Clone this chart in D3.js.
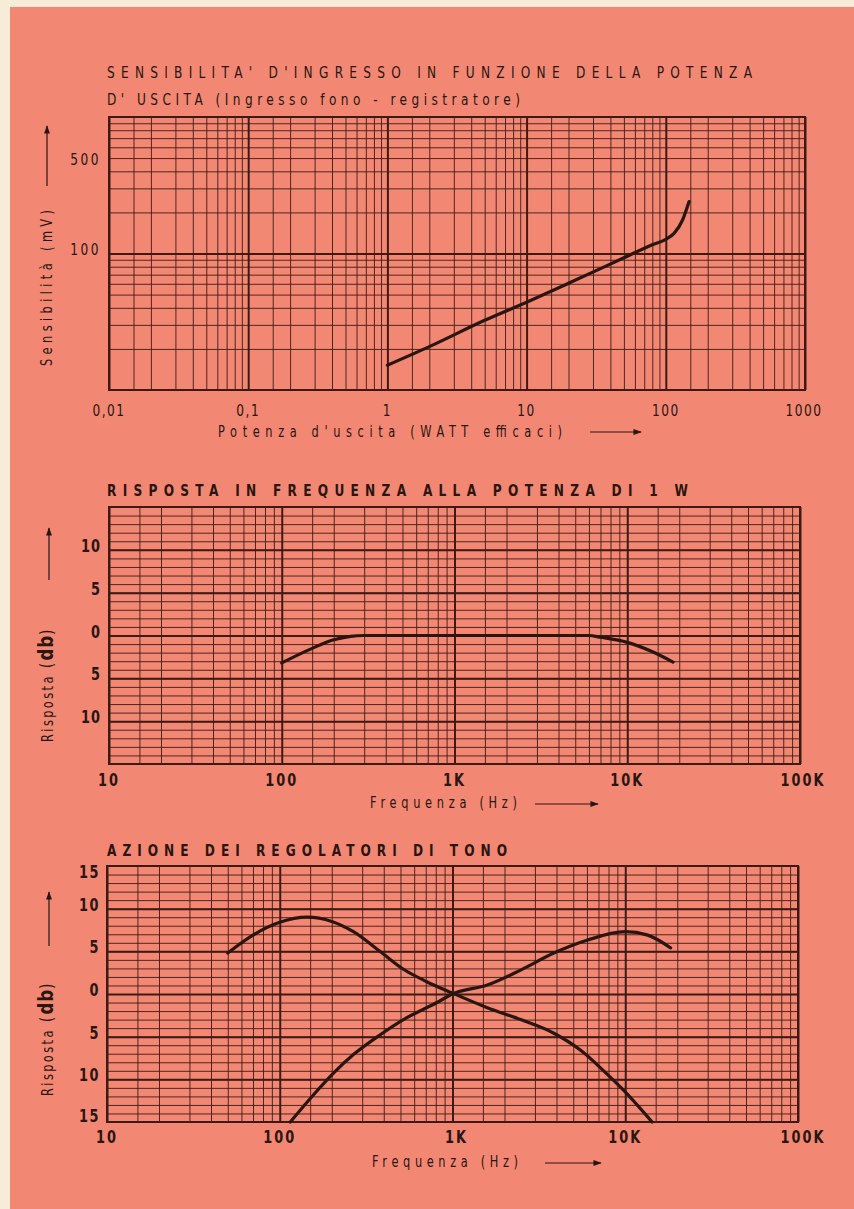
<!DOCTYPE html>
<html><head><meta charset="utf-8">
<script src="https://cdn.jsdelivr.net/npm/d3@7"></script>
<style>body{margin:0;background:#f6ecd8}svg{display:block}</style>
</head><body><svg id="c" width="854" height="1209"></svg>
<script>
// ---------- DATA ----------
// Chart 1: input sensitivity vs output power
const powerW = [1, 2, 5, 10, 20, 50, 80, 100, 115, 132, 147];
const sensMv = [15.2, 20.8, 32.4, 44, 60.5, 93, 116, 127, 141, 176, 240];
const powerTicks = [0.01, 0.1, 1, 10, 100, 1000];
const powerTickLabels = ["0,01", "0,1", "1", "10", "100", "1000"];
const sensTicks = [500, 100];
const sensTickLabels = ["500", "100"];

// Chart 2: frequency response at 1 W
const respFreq = [100, 150, 200, 250, 300, 1000, 3000, 6000, 7000, 10000, 14000, 18400];
const respDb = [-3.2, -1.5, -0.5, -0.1, 0, 0, 0, 0, -0.2, -0.8, -1.9, -3.1];
const respDbTicks = [10, 5, 0, -5, -10];

// Chart 3: tone control action
const bassFreq = [50, 70, 100, 144, 200, 267, 380, 520, 700, 1000, 1590, 2480, 3860, 5520, 7500, 9800, 14300];
const bassDb = [4.8, 6.9, 8.4, 9.0, 8.5, 7.3, 5.0, 2.9, 1.5, 0.1, -1.6, -3.0, -4.6, -6.6, -9.0, -11.3, -15];
const trebleFreq = [115, 157, 204, 267, 380, 520, 813, 1000, 1590, 2480, 3860, 6000, 10000, 13500, 18300];
const trebleDb = [-15, -11.8, -9.3, -7.1, -4.8, -3.0, -1.0, 0, 1.05, 2.8, 4.8, 6.3, 7.3, 6.9, 5.4];
const toneDbTicks = [15, 10, 5, 0, -5, -10, -15];

const freqTicks = [10, 100, 1000, 10000, 100000];
const freqTickLabels = ["10", "100", "1K", "10K", "100K"];

// ---------- STYLE ----------
const INK = "#2a1510";
const GRID = "#3d1a14";
const PAPER = "#f28874";
const FONT = "'DejaVu Sans','Liberation Sans',sans-serif";
const SX = 0.76; // horizontal squeeze to imitate condensed lettering

const svg = d3.select("#c");
svg.append("rect").attr("x", 10).attr("y", 7).attr("width", 844).attr("height", 1202).attr("fill", PAPER);

const defs = svg.append("defs");
defs.append("marker").attr("id", "arr").attr("viewBox", "0 0 10 10").attr("refX", 9).attr("refY", 5)
  .attr("markerWidth", 7).attr("markerHeight", 7).attr("orient", "auto")
  .append("path").attr("d", "M0,1.5L10,5L0,8.5Z").attr("fill", INK);

function txt(x, y, s, o = {}) {
  const sx = o.sx || SX;
  const t = svg.append("text").attr("x", 0).attr("y", 0).text(s)
    .attr("font-family", FONT).attr("fill", INK)
    .attr("font-size", o.size || 14)
    .attr("font-weight", o.weight || "normal")
    .attr("text-anchor", o.anchor || "start")
    .attr("transform", `translate(${x},${y}) rotate(${o.rot || 0}) scale(${sx},1)`);
  if (o.len) t.attr("textLength", o.len / sx).attr("lengthAdjust", "spacing");
  if (o.ls) t.attr("letter-spacing", o.ls / sx);
  return t;
}
function arrow(x1, y1, x2, y2) {
  svg.append("line").attr("x1", x1).attr("y1", y1).attr("x2", x2).attr("y2", y2)
    .attr("stroke", INK).attr("stroke-width", 1.2).attr("marker-end", "url(#arr)");
}
function logMinor(d0, d1, mults) {
  const out = [];
  for (let d = d0; d < d1 * 0.999; d *= 10) mults.forEach(m => out.push(d * m));
  return out;
}
function grid(x, y, xMinor, xMajor, yMinor, yMajor) {
  const [x0, x1] = x.range(), [y0, y1] = y.range();
  const h = y0 - y1, w = x1 - x0;
  const draw = (axis, tr, sw) => {
    const g = svg.append("g").attr("transform", tr).call(axis);
    g.select(".domain").remove();
    g.selectAll("line").attr("stroke", GRID).attr("stroke-width", sw);
  };
  draw(d3.axisBottom(x).tickValues(xMinor).tickSize(-h).tickFormat(""), `translate(0,${y0})`, 0.9);
  draw(d3.axisLeft(y).tickValues(yMinor).tickSize(-w).tickFormat(""), `translate(${x0},0)`, 0.9);
  draw(d3.axisBottom(x).tickValues(xMajor).tickSize(-h).tickFormat(""), `translate(0,${y0})`, 2);
  draw(d3.axisLeft(y).tickValues(yMajor).tickSize(-w).tickFormat(""), `translate(${x0},0)`, 2);
  svg.append("rect").attr("x", x0).attr("y", y1).attr("width", w).attr("height", h)
    .attr("fill", "none").attr("stroke", GRID).attr("stroke-width", 2);
}
function curve(x, y, xs, ys) {
  const pts = xs.map((v, i) => [v, ys[i]]);
  svg.append("path").datum(pts)
    .attr("d", d3.line().x(d => x(d[0])).y(d => y(d[1])).curve(d3.curveMonotoneX))
    .attr("fill", "none").attr("stroke", INK).attr("stroke-width", 3.2).attr("stroke-linecap", "round");
}
function yTitle(x, y, arrowTop, arrowBottom) {
  const t = txt(x, y, "Risposta ", { size: 15, rot: -90, ls: 2.4 });
  t.append("tspan").text("(").attr("font-size", 18);
  t.append("tspan").text("db").attr("font-size", 22).attr("font-weight", "bold").attr("letter-spacing", 1);
  t.append("tspan").text(")").attr("font-size", 18);
  arrow(x - 4, arrowBottom, x - 4, arrowTop);
}

// ---------- CHART 1 ----------
{
  const x = d3.scaleLog().domain([0.01, 1000]).range([109, 805]);
  const y = d3.scaleLog().domain([10, 1000]).range([390, 117]);
  grid(x, y, logMinor(0.01, 1000, [1.5, 2, 3, 4, 5, 6, 7, 8, 9]), powerTicks,
       logMinor(10, 1000, [2, 3, 4, 5, 6, 7, 8, 9]), [100]);
  curve(x, y, powerW, sensMv);
  txt(107, 78, "SENSIBILITA' D'INGRESSO IN FUNZIONE DELLA POTENZA", { size: 16, len: 645 });
  txt(107, 105, "D' USCITA  (Ingresso  fono - registratore)", { size: 16, len: 413 });
  powerTicks.forEach((v, i) => txt(x(v) + (i === powerTicks.length - 1 ? -1 : 0), 416, powerTickLabels[i],
    { size: 16, anchor: "middle", ls: 1.5 }));
  sensTicks.forEach((v, i) => txt(101, y(v) + (i === 0 ? 7 : 1), sensTickLabels[i], { size: 16, anchor: "end", ls: 2.5 }));
  txt(218, 437, "Potenza  d'uscita  (WATT  efficaci)", { size: 15, len: 344 });
  arrow(590, 432, 641, 432);
  txt(52, 366, "Sensibilità  (mV)", { size: 15, len: 156, rot: -90 });
  arrow(47, 186, 47, 126);
}

// ---------- CHART 2 ----------
{
  const x = d3.scaleLog().domain([10, 100000]).range([109, 800]);
  const y = d3.scaleLinear().domain([-15, 15]).range([764, 507]);
  grid(x, y, logMinor(10, 100000, [1.5, 2, 3, 4, 5, 6, 7, 8, 9]), freqTicks,
       d3.range(-15, 16, 1), [-10, -5, 0, 5, 10]);
  curve(x, y, respFreq, respDb);
  txt(107, 496, "RISPOSTA  IN  FREQUENZA  ALLA  POTENZA  DI  1 W", { size: 16, len: 581, weight: "bold" });
  respDbTicks.forEach(v => txt(101, y(v) + 2, String(Math.abs(v)), { size: 17, anchor: "end", weight: "bold", ls: 1 }));
  freqTicks.forEach((v, i) => txt(x(v) + (i === 4 ? 3 : 0), 786, freqTickLabels[i], { size: 17, anchor: "middle", weight: "bold", ls: 2 }));
  txt(370, 808, "Frequenza  (Hz)", { size: 15, len: 147 });
  arrow(535, 804, 598, 804);
  yTitle(53, 742, 528, 580);
}

// ---------- CHART 3 ----------
{
  const x = d3.scaleLog().domain([10, 100000]).range([107, 798]);
  const y = d3.scaleLinear().domain([-15, 15]).range([1122, 866]);
  grid(x, y, logMinor(10, 100000, [1.5, 2, 3, 4, 5, 6, 7, 8, 9]), freqTicks,
       d3.range(-15, 16, 1), [-10, -5, 0, 5, 10]);
  curve(x, y, bassFreq, bassDb);
  curve(x, y, trebleFreq, trebleDb);
  txt(107, 856, "AZIONE  DEI  REGOLATORI  DI  TONO", { size: 16, len: 400, weight: "bold" });
  toneDbTicks.forEach(v => txt(100, y(v) + (v === 15 ? 12 : v === -15 ? 0 : 2), String(Math.abs(v)),
    { size: 17, anchor: "end", weight: "bold", ls: 1.5 }));
  freqTicks.forEach((v, i) => txt(x(v) + (i === 4 ? 5 : i === 2 ? 4 : 0), 1143, freqTickLabels[i],
    { size: 17, anchor: "middle", weight: "bold", ls: 2 }));
  txt(372, 1167, "Frequenza  (Hz)", { size: 15, len: 146 });
  arrow(545, 1163, 601, 1163);
  yTitle(53, 1096, 892, 946);
}
</script></body></html>
